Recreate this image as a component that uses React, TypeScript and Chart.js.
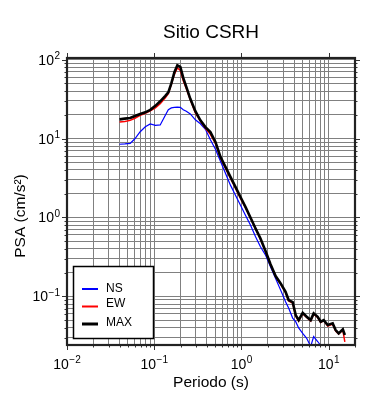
import { useEffect, useRef } from 'react';
import { Chart, registerables } from 'chart.js';

Chart.register(...registerables);

// ---- data ----
const periods = [0.04, 0.046, 0.053, 0.06, 0.069, 0.079, 0.09, 0.103, 0.117, 0.134, 0.145, 0.157, 0.17, 0.184, 0.199, 0.215, 0.233, 0.259, 0.296, 0.338, 0.386, 0.44, 0.503, 0.574, 0.655, 0.747, 0.853, 0.974, 1.11, 1.27, 1.45, 1.65, 1.89, 2.15, 2.46, 2.81, 3.2, 3.47, 3.86, 4.18, 4.52, 5.03, 5.59, 6.21, 6.72, 7.47, 8.09, 8.76, 9.74, 11.1, 12.0, 13.0, 14.5, 15.3];

const nsValues: (number | null)[] = [8.47, 8.55, 8.67, 9.94, 12.2, 14.1, 15.3, 14.7, 14.9, 19.7, 23.2, 24.5, 24.9, 25.1, 24.9, 23.2, 22.2, 20.5, 17.3, 15.4, 13.1, 9.66, 7.32, 5.16, 3.64, 2.57, 1.91, 1.43, 1.07, 0.799, 0.568, 0.425, 0.333, 0.237, 0.169, 0.12, 0.0855, 0.0711, 0.0531, 0.0478, 0.0398, 0.034, 0.0294, 0.0232, 0.031, 0.0268, 0.0238, 0.02, 0.018, null, null, null, null, null];

const ewValues = [16.2, 16.5, 17.0, 18.1, 19.7, 20.9, 22.5, 24.5, 27.7, 32.8, 37.1, 48.7, 65.2, 78.7, 73.2, 54.0, 43.0, 31.0, 21.2, 16.6, 13.5, 11.3, 8.72, 5.71, 4.21, 3.14, 2.35, 1.75, 1.33, 0.98, 0.722, 0.531, 0.369, 0.253, 0.178, 0.143, 0.112, 0.0873, 0.0822, 0.0563, 0.0487, 0.0605, 0.054, 0.0487, 0.0597, 0.054, 0.0466, 0.0494, 0.0421, 0.0446, 0.0363, 0.0333, 0.0374, 0.0266];

const maxValues = [17.5, 17.9, 18.2, 19.3, 20.5, 21.5, 23.1, 26.0, 29.7, 34.8, 38.6, 50.1, 69.1, 84.7, 81.1, 58.8, 45.3, 31.9, 22.2, 17.0, 14.0, 12.1, 9.06, 5.85, 4.37, 3.27, 2.44, 1.82, 1.36, 0.994, 0.726, 0.542, 0.374, 0.256, 0.181, 0.146, 0.114, 0.0898, 0.0847, 0.058, 0.0501, 0.062, 0.0552, 0.0501, 0.0609, 0.0552, 0.0477, 0.0501, 0.0433, 0.0455, 0.0374, 0.034, 0.0382, 0.0324];

const seriesNames = ['NS', 'EW', 'MAX'];
const seriesColors = ['#0000ff', '#ff0000', '#000000'];
const seriesWidths = [1.2, 1.5, 2.6];

const xExponents = [-2, -1, 0, 1];
const yExponents = [-1, 0, 1, 2];

const titleText = 'Sitio CSRH';
const xTitle = 'Periodo (s)';
const yTitle = 'PSA (cm/s\u00B2)';

const X_MIN = 0.01, X_MAX = 20;
const Y_MIN = 0.0242, Y_MAX = 105;

const FONT = '"Liberation Sans", Arial, Helvetica, sans-serif';

function logTicks(min: number, max: number) {
  const out: { value: number }[] = [];
  const e0 = Math.floor(Math.log10(min));
  const e1 = Math.ceil(Math.log10(max));
  for (let e = e0; e <= e1; e++) {
    for (let m = 1; m <= 9; m++) {
      const v = parseFloat((m * Math.pow(10, e)).toPrecision(6));
      if (v >= min * 0.9999 && v <= max * 1.0001) out.push({ value: v });
    }
  }
  return out;
}

function drawPow(ctx: CanvasRenderingContext2D, exp: number, x: number, baseY: number, align: 'center' | 'right') {
  const baseFont = `14px ${FONT}`;
  const supFont = `10px ${FONT}`;
  const sup = exp < 0 ? '\u2212' + Math.abs(exp) : String(exp);
  ctx.font = baseFont;
  const wb = ctx.measureText('10').width;
  ctx.font = supFont;
  const ws = ctx.measureText(sup).width;
  const total = wb + ws + 0.5;
  const sx = align === 'center' ? x - total / 2 : x - total;
  ctx.textAlign = 'left';
  ctx.textBaseline = 'alphabetic';
  ctx.fillStyle = '#000';
  ctx.font = baseFont;
  ctx.fillText('10', sx, baseY);
  ctx.font = supFont;
  ctx.fillText(sup, sx + wb + 0.5, baseY - 5.5);
}

const decorPlugin = {
  id: 'decor',
  afterDraw(chart: any) {
    const ctx: CanvasRenderingContext2D = chart.ctx;
    const { left, right, top, bottom } = chart.chartArea;
    const xs = chart.scales.x;
    const ys = chart.scales.y;
    ctx.save();

    // ticks outside the frame
    ctx.strokeStyle = '#333';
    ctx.lineWidth = 1;
    for (const t of xs.ticks) {
      const px = Math.round(xs.getPixelForValue(t.value)) + 0.5;
      const major = Math.abs(Math.log10(t.value) - Math.round(Math.log10(t.value))) < 1e-6;
      const len = major ? 5 : 2.5;
      ctx.beginPath();
      ctx.moveTo(px, bottom);
      ctx.lineTo(px, bottom + len);
      if (major) {
        ctx.moveTo(px, top);
        ctx.lineTo(px, top - len);
      }
      ctx.stroke();
    }
    for (const t of ys.ticks) {
      const py = Math.round(ys.getPixelForValue(t.value)) + 0.5;
      const major = Math.abs(Math.log10(t.value) - Math.round(Math.log10(t.value))) < 1e-6;
      const len = major ? 5 : 2.5;
      ctx.beginPath();
      ctx.moveTo(left, py);
      ctx.lineTo(left - len, py);
      ctx.moveTo(right, py);
      ctx.lineTo(right + len, py);
      ctx.stroke();
    }

    // frame
    ctx.strokeStyle = '#222';
    ctx.lineWidth = 2.2;
    ctx.strokeRect(left, top, right - left, bottom - top);

    // tick labels
    for (const e of xExponents) {
      const px = xs.getPixelForValue(Math.pow(10, e));
      drawPow(ctx, e, px, 368.5, 'center');
    }
    for (const e of yExponents) {
      const py = ys.getPixelForValue(Math.pow(10, e));
      drawPow(ctx, e, 60, py + 5, 'right');
    }

    // titles
    ctx.fillStyle = '#000';
    ctx.textAlign = 'center';
    ctx.textBaseline = 'alphabetic';
    ctx.font = `19px ${FONT}`;
    ctx.fillText(titleText, (left + right) / 2, 37.5);
    ctx.font = `15.5px ${FONT}`;
    ctx.fillText(xTitle, (left + right) / 2, 386.5);
    ctx.save();
    ctx.translate(25, 216);
    ctx.rotate(-Math.PI / 2);
    ctx.font = `15.5px ${FONT}`;
    ctx.fillText(yTitle, 0, 0);
    ctx.restore();

    // legend
    const lx = 73.5, ly = 266.5, lw = 80, lh = 72;
    ctx.fillStyle = '#fff';
    ctx.fillRect(lx, ly, lw, lh);
    ctx.strokeStyle = '#000';
    ctx.lineWidth = 1.5;
    ctx.strokeRect(lx, ly, lw, lh);
    const lineYs = [289, 306.5, 324];
    const textYs = [288.5, 304, 323];
    const lineW = [2, 2, 3];
    seriesNames.forEach((name, i) => {
      ctx.strokeStyle = seriesColors[i];
      ctx.lineWidth = lineW[i];
      ctx.beginPath();
      ctx.moveTo(82, lineYs[i]);
      ctx.lineTo(98, lineYs[i]);
      ctx.stroke();
      ctx.fillStyle = '#000';
      ctx.font = `12px ${FONT}`;
      ctx.textAlign = 'left';
      ctx.textBaseline = 'middle';
      ctx.fillText(name, 106, textYs[i]);
    });

    ctx.restore();
  },
};

export default function App() {
  const canvasRef = useRef<HTMLCanvasElement | null>(null);

  useEffect(() => {
    if (!canvasRef.current) return;
    const valueSets = [nsValues, ewValues, maxValues];
    const datasets = valueSets.map((vals, i) => ({
      label: seriesNames[i],
      data: periods.map((p, j) => ({ x: p, y: vals[j] })),
      borderColor: seriesColors[i],
      backgroundColor: seriesColors[i],
      borderWidth: seriesWidths[i],
      pointRadius: 0,
      tension: 0,
      fill: false,
      spanGaps: false,
      order: 2 - i,
    }));

    const gridOpts = {
      color: '#808080',
      lineWidth: 1,
      drawTicks: false,
    };

    const chart = new Chart(canvasRef.current, {
      type: 'line',
      data: { datasets },
      plugins: [decorPlugin],
      options: {
        responsive: false,
        animation: false,
        devicePixelRatio: 1,
        layout: { padding: { top: 58, right: 35, left: 0, bottom: 0 } },
        plugins: {
          legend: { display: false },
          title: { display: false },
          tooltip: { enabled: false },
        },
        scales: {
          x: {
            type: 'logarithmic',
            min: X_MIN,
            max: X_MAX,
            grid: gridOpts,
            border: { display: false },
            ticks: { display: false },
            afterBuildTicks: (scale: any) => {
              scale.ticks = logTicks(scale.min, scale.max);
            },
            afterFit: (scale: any) => {
              scale.height = 55;
            },
          },
          y: {
            type: 'logarithmic',
            min: Y_MIN,
            max: Y_MAX,
            grid: gridOpts,
            border: { display: false },
            ticks: { display: false },
            afterBuildTicks: (scale: any) => {
              scale.ticks = logTicks(scale.min, scale.max);
            },
            afterFit: (scale: any) => {
              scale.width = 67;
            },
          },
        },
      } as any,
    });
    return () => chart.destroy();
  }, []);

  return (
    <div style={{ position: 'absolute', left: 0, top: 0, width: 390, height: 400, background: '#fff' }}>
      <canvas ref={canvasRef} width={390} height={400} style={{ display: 'block' }} />
    </div>
  );
}
